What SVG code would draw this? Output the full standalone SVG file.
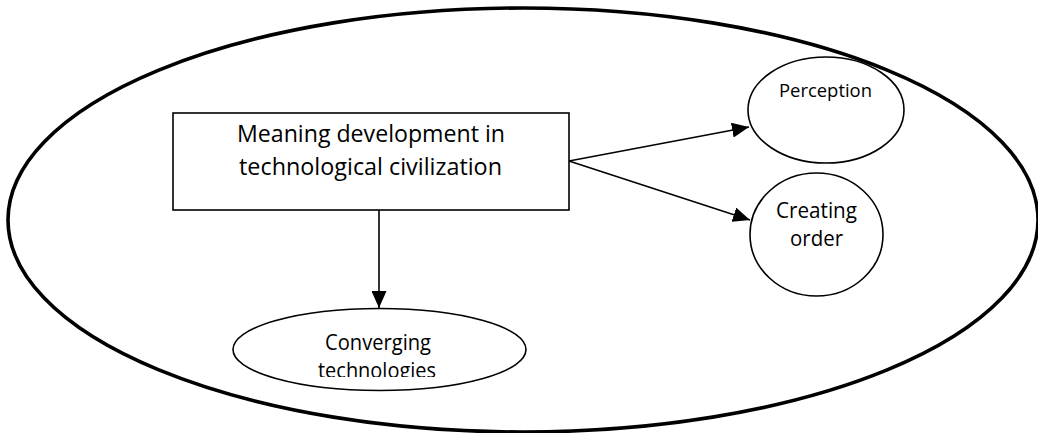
<svg xmlns="http://www.w3.org/2000/svg" width="1038" height="433" viewBox="0 0 1038 433">
  <style>
    .shape { fill: #ffffff; stroke: #000000; stroke-width: 1.6; }
    .outer { fill: none; stroke: #000000; stroke-width: 3.6; }
    .link { fill: none; stroke: #000000; stroke-width: 1.6; }
    .label { font-family: "Open Sans", "Noto Sans", "Liberation Sans", sans-serif; fill: #000000; text-anchor: middle; }
  </style>
  <defs>
    <marker id="arrow" markerUnits="userSpaceOnUse" markerWidth="17" markerHeight="15" refX="17" refY="7.5" orient="auto">
      <path d="M0,0 L17,7.5 L0,15 Z" fill="#000000"/>
    </marker>
    <!-- text box of the lower ellipse cuts its second line short -->
    <clipPath id="convClip">
      <rect x="300" y="320" width="160" height="57"/>
    </clipPath>
  </defs>

  <!-- enclosing boundary -->
  <g id="boundary">
    <ellipse class="outer" cx="523" cy="220" rx="515" ry="212"/>
  </g>

  <!-- connectors -->
  <g id="connectors">
    <line class="link" x1="569" y1="161" x2="749" y2="127" marker-end="url(#arrow)"/>
    <line class="link" x1="569" y1="161" x2="750" y2="220" marker-end="url(#arrow)"/>
    <line class="link" x1="379" y1="210" x2="379" y2="308" marker-end="url(#arrow)"/>
  </g>

  <g id="node-meaning">
    <rect class="shape" x="173" y="113" width="396" height="97"/>
    <text class="label" font-size="24" x="371" y="142" textLength="268" lengthAdjust="spacingAndGlyphs">Meaning development in</text>
    <text class="label" font-size="24" x="370.5" y="175" textLength="263" lengthAdjust="spacingAndGlyphs">technological civilization</text>
  </g>

  <g id="node-perception">
    <ellipse class="shape" cx="826" cy="110" rx="78" ry="53"/>
    <text class="label" font-size="18" x="825.5" y="97" textLength="93" lengthAdjust="spacingAndGlyphs">Perception</text>
  </g>

  <g id="node-creating-order">
    <ellipse class="shape" cx="816.5" cy="234.5" rx="66.5" ry="61.5"/>
    <text class="label" font-size="21" x="816.5" y="218" textLength="81" lengthAdjust="spacingAndGlyphs">Creating</text>
    <text class="label" font-size="21" x="816.5" y="246" textLength="53" lengthAdjust="spacingAndGlyphs">order</text>
  </g>

  <g id="node-converging">
    <ellipse class="shape" cx="379.5" cy="349.5" rx="146.5" ry="41"/>
    <g clip-path="url(#convClip)">
      <text class="label" font-size="21" x="378" y="350" textLength="106" lengthAdjust="spacingAndGlyphs">Converging</text>
      <text class="label" font-size="21" x="377" y="378" textLength="118" lengthAdjust="spacingAndGlyphs">technologies</text>
    </g>
  </g>
</svg>
